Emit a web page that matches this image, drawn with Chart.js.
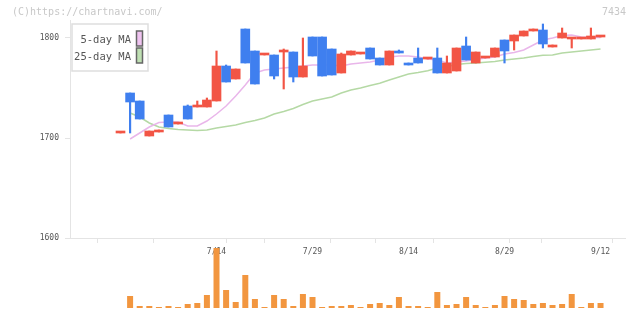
<!DOCTYPE html>
<html>
<head>
<meta charset="utf-8">
<script src="https://cdn.jsdelivr.net/npm/chart.js@4.4.1/dist/chart.umd.min.js"></script>
<style>
body{margin:0;background:#fff;}
#wrap{position:relative;width:640px;height:311px;}
#wrap canvas{position:absolute;left:0;top:0;}
.hd{position:absolute;top:6px;font:10px "DejaVu Sans Mono",monospace;color:#c8c8c8;line-height:12px;}
</style>
</head>
<body>
<div id="wrap">
<canvas id="price" width="640" height="311"></canvas>
<canvas id="vol" width="640" height="311"></canvas>
<div class="hd" style="left:12px">(C)https://chartnavi.com/</div>
<div class="hd" style="right:14px">7434</div>
</div>
<script>
// daily candles, index 0..50
const open  = [1705,1745,1737,1702,1706,1723,1714,1732,1731,1731,1737,1772,1759,1809,1787,1783,1783,1786,1786,1761,1801,1801,1789,1765,1783,1784,1790,1780,1773,1787,1775,1780,1779,1780,1765,1767,1792,1775,1780,1781,1798,1797,1802,1807,1808,1791,1800,1799,1799,1799,1801];
const high  = [1705,1745,1737,1707,1708,1723,1715,1733,1737,1740,1787,1773,1769,1809,1787,1783,1783,1789,1786,1800,1801,1801,1789,1785,1787,1784,1790,1780,1787,1788,1775,1790,1780,1790,1782,1790,1801,1786,1781,1790,1798,1803,1807,1809,1814,1793,1810,1800,1800,1810,1802];
const low   = [1705,1705,1719,1702,1706,1711,1714,1719,1731,1731,1737,1756,1759,1775,1754,1783,1759,1749,1756,1761,1782,1762,1763,1765,1783,1784,1779,1773,1773,1785,1773,1775,1779,1765,1765,1767,1778,1775,1780,1781,1775,1788,1802,1807,1790,1791,1800,1790,1799,1799,1801];
const close = [1705,1736,1719,1707,1708,1711,1715,1719,1732,1738,1772,1756,1769,1775,1754,1783,1762,1786,1761,1772,1782,1762,1763,1784,1787,1784,1779,1773,1787,1785,1773,1775,1780,1765,1775,1790,1778,1786,1781,1790,1787,1803,1807,1808,1794,1793,1805,1800,1800,1802,1802];
const ma5   = [null,1699,1705,1711,1715.5,1716,1716,1712,1712,1717,1724,1732,1742,1753,1765,1768,1769,1770,1771,1772,1773,1773,1773,1772,1774,1775,1776,1778,1781,1782,1782,1781,1779,1778,1775,1776,1777,1778.5,1780,1781,1784,1785.5,1788,1793,1798,1800,1802.5,1803,1801,1800.5,1800.5];
const ma25  = [null,1725,1721,1715,1711,1709.5,1708.5,1708,1707.5,1708,1710,1711.5,1713,1715.5,1717.5,1720,1724,1726.5,1729.5,1733.5,1737,1739,1741,1745,1748,1750,1752.5,1754.7,1758,1761,1764,1765.5,1767.3,1770,1771.5,1773.5,1774.5,1775,1775.7,1776.5,1778,1779,1780,1781.5,1782.7,1783,1785,1786,1787,1788,1789];
const volume = [0,1200,200,200,100,200,100,400,500,1300,6000,1800,600,3300,900,100,1300,900,200,1400,1100,100,200,200,300,100,400,500,300,1100,200,200,100,1600,300,400,1100,300,100,300,1200,900,800,400,500,300,400,1400,100,500,500];
const tickPos = [10,20,30,40,50];
const tickLabels = ['7/14','7/29','8/14','8/29','9/12'];

const idx = close.map((_, i) => i);
const RED = '#f25545', BLUE = '#3f7fef';
const X_MIN = -5.26, X_MAX = 52.55;
const candleColor = c => close[c.dataIndex] >= open[c.dataIndex] ? RED : BLUE;
const monoFont = {family: '"DejaVu Sans Mono", monospace', size: 8};

const maLegend = {
  id: 'maLegend',
  afterDraw(chart) {
    const c = chart.ctx;
    c.save();
    c.fillStyle = '#fff';
    c.strokeStyle = '#dedede';
    c.lineWidth = 1.5;
    c.fillRect(72, 24, 76, 47);
    c.strokeRect(72, 24, 76, 47);
    c.font = '10.5px "DejaVu Sans Mono", monospace';
    c.textAlign = 'right';
    c.textBaseline = 'middle';
    chart.data.datasets.filter(d => d.type === 'line').forEach((d, k) => {
      const y = 38.5 + k * 17;
      c.fillStyle = '#555';
      c.fillText(d.label, 131, y + 1.5);
      c.fillStyle = d.backgroundColor;
      c.fillRect(136.5, y - 7.5, 6, 15);
      c.strokeStyle = '#666';
      c.strokeRect(136.5, y - 7.5, 6, 15);
    });
    c.restore();
  }
};

new Chart(document.getElementById('price'), {
  type: 'bar',
  data: {
    datasets: [
      {type: 'line', label: '5-day MA', data: idx.map(i => ({x: i, y: ma5[i]})),
       borderColor: '#e9b6ea', backgroundColor: '#efc3f0', borderWidth: 1.5, pointRadius: 0, tension: 0, order: 3},
      {type: 'line', label: '25-day MA', data: idx.map(i => ({x: i, y: ma25[i]})),
       borderColor: '#b5d9a5', backgroundColor: '#bfe0b3', borderWidth: 1.5, pointRadius: 0, tension: 0, order: 3},
      {label: 'wick', data: idx.map(i => ({x: i, y: [low[i], high[i]]})),
       backgroundColor: candleColor, barThickness: 1.5, grouped: false, order: 2},
      {label: 'body', data: idx.map(i => ({x: i, y: [open[i], close[i]]})),
       backgroundColor: candleColor, barThickness: 9, minBarLength: 2, grouped: false, order: 1}
    ]
  },
  options: {
    responsive: false,
    animation: false,
    events: [],
    layout: {padding: {top: 20, right: 15, left: 0, bottom: 0}},
    plugins: {legend: {display: false}, tooltip: {enabled: false}},
    scales: {
      x: {
        type: 'linear', min: X_MIN, max: X_MAX, offset: false,
        afterFit: s => { s.height = 73; },
        afterBuildTicks: s => {
          const t = [];
          for (let k = 0; k <= 10; k++) t.push({value: X_MIN + k * (X_MAX - X_MIN) / 10});
          tickPos.forEach(p => t.push({value: p}));
          t.sort((a, b) => a.value - b.value);
          s.ticks = t;
        },
        grid: {
          drawOnChartArea: false, tickLength: 5, color: '#e4e4e4',
          tickColor: c => tickPos.includes(c.tick && c.tick.value) ? 'rgba(0,0,0,0)' : '#e4e4e4'
        },
        border: {color: '#e4e4e4'},
        ticks: {
          autoSkip: false, maxRotation: 0, minRotation: 0, padding: 4, color: '#555', font: monoFont,
          callback: v => { const k = tickPos.indexOf(v); return k >= 0 ? tickLabels[k] : ''; }
        }
      },
      y: {
        min: 1600, max: 1818,
        afterFit: s => { s.width = 70; },
        grid: {drawOnChartArea: false, tickLength: 5, color: '#e4e4e4'},
        border: {color: '#e4e4e4'},
        ticks: {stepSize: 100, includeBounds: false, padding: 6, color: '#555', font: monoFont, callback: v => String(v)}
      }
    }
  },
  plugins: [maLegend]
});

new Chart(document.getElementById('vol'), {
  type: 'bar',
  data: {
    datasets: [{label: 'volume', data: idx.map(i => ({x: i, y: volume[i]})),
                backgroundColor: '#f2963f', barThickness: 6, inflateAmount: 0}]
  },
  options: {
    responsive: false,
    animation: false,
    events: [],
    layout: {padding: {left: 70, right: 15, top: 246, bottom: 3}},
    plugins: {legend: {display: false}, tooltip: {enabled: false}},
    scales: {
      x: {type: 'linear', min: X_MIN, max: X_MAX, offset: false, display: false},
      y: {min: 0, max: 6200, display: false}
    }
  }
});
</script>
</body>
</html>
